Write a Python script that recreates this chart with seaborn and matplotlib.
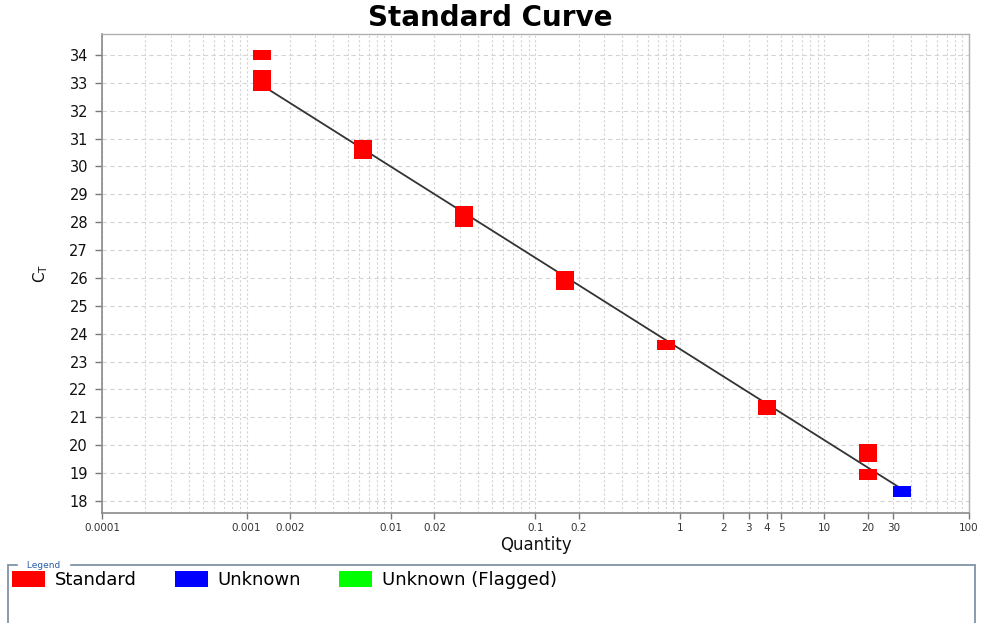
import numpy as np
import pandas as pd
import matplotlib
matplotlib.use("Agg")
import matplotlib.pyplot as plt
import seaborn as sns
from matplotlib.path import Path
from matplotlib.patches import Patch, Rectangle
from matplotlib.ticker import LogLocator, NullFormatter

# valores
std_quantity = [0.00128, 0.00128, 0.00128, 0.0064, 0.0064, 0.032, 0.032,
                0.16, 0.16, 0.8, 4.0, 4.0, 20.0, 20.0, 20.0]
std_ct = [34.0, 33.27, 32.9, 30.77, 30.45, 28.4, 28.03,
          26.05, 25.77, 23.6, 21.42, 21.27, 19.85, 19.6, 18.95]
unk_quantity = [34.5]
unk_ct = [18.34]

# reta do ajuste (Ct = SLOPE*log10(q) + INTERCEPT)
SLOPE = -3.27
INTERCEPT = 23.45

xtick_values = [0.0001, 0.001, 0.002, 0.01, 0.02, 0.1, 0.2, 1, 2, 3, 4, 5, 10, 20, 30, 100]
xtick_labels = ["0.0001", "0.001", "0.002", "0.01", "0.02", "0.1", "0.2",
                "1", "2", "3", "4", "5", "10", "20", "30", "100"]
ytick_values = list(range(18, 35))

legend_labels = ["Standard", "Unknown", "Unknown (Flagged)"]
legend_colors = ["#ff0000", "#0000ff", "#00ff00"]

sns.set_style("white")
plt.rcParams["font.family"] = ["DejaVu Sans"]
plt.rcParams["text.color"] = "black"

df = pd.DataFrame({
    "Quantity": std_quantity + unk_quantity,
    "Ct": std_ct + unk_ct,
    "Task": ["Standard"] * len(std_quantity) + ["Unknown"] * len(unk_quantity),
})

fit_q = np.array([min(std_quantity), unk_quantity[0]])
fit_ct = SLOPE * np.log10(fit_q) + INTERCEPT

# marcador retangular (como no software do equipamento)
rect = Path([(-1, -0.58), (1, -0.58), (1, 0.58), (-1, 0.58), (-1, -0.58)], closed=True)

fig = plt.figure(figsize=(9.81, 6.23), dpi=100)
ax = fig.add_axes([102 / 981, 1 - 513 / 623, (969 - 102) / 981, (513 - 34) / 623])

sns.lineplot(x=fit_q, y=fit_ct, color="#333333", linewidth=1.3, ax=ax, zorder=2)
sns.scatterplot(data=df, x="Quantity", y="Ct", hue="Task",
                palette={"Standard": legend_colors[0], "Unknown": legend_colors[1]},
                marker=rect, s=168, linewidth=0, legend=False, ax=ax, zorder=3)

ax.set_xscale("log")
ax.set_xlim(1e-4, 100)
ax.set_ylim(17.57, 34.75)

ax.set_xticks(xtick_values)
ax.set_xticklabels(xtick_labels)
ax.xaxis.set_minor_locator(LogLocator(base=10, subs=np.arange(2, 10), numticks=20))
ax.xaxis.set_minor_formatter(NullFormatter())
ax.set_yticks(ytick_values)

ax.tick_params(axis="x", which="major", direction="out", length=4, width=1,
               color="#777777", labelsize=7.5, labelcolor="#333333", pad=3, bottom=True)
ax.tick_params(axis="x", which="minor", length=0)
ax.tick_params(axis="y", direction="out", length=5, width=1, color="#777777",
               labelsize=10.5, labelcolor="#111111", pad=5, left=True)

ax.grid(True, axis="x", which="both", color="#d4d4d4", linestyle=(0, (2, 2)), linewidth=0.8)
ax.grid(True, axis="y", which="major", color="#d4d4d4", linestyle=(0, (4, 3)), linewidth=0.8)
ax.set_axisbelow(True)

for side in ["top", "right"]:
    ax.spines[side].set_color("#b0b0b0")
    ax.spines[side].set_linewidth(1)
for side in ["left", "bottom"]:
    ax.spines[side].set_color("#8a8a8a")
    ax.spines[side].set_linewidth(1.2)

ax.set_xlabel("Quantity", fontsize=12, color="#111111", labelpad=2)
ax.set_ylabel(r"C$_\mathregular{T}$", fontsize=11, color="#111111", labelpad=14)

fig.suptitle("Standard Curve", x=0.5, y=1 - 4 / 623, va="top",
             fontsize=20, fontweight="bold", color="black")

# caixa da legenda (borda com título, estilo Swing)
box = Rectangle((8 / 981, -0.05), (975 - 8) / 981, (1 - 565 / 623) + 0.05,
                transform=fig.transFigure, fill=False, edgecolor="#7f93a6",
                linewidth=1.3, clip_on=False)
fig.add_artist(box)
fig.text(24 / 981, 1 - 565 / 623, " Legend ", fontsize=6.5, color="#2a5caa",
         va="center", ha="left", backgroundcolor="white")

handles = [Patch(facecolor=c, edgecolor="none", label=l)
           for c, l in zip(legend_colors, legend_labels)]
fig.legend(handles=handles, loc="upper left", bbox_to_anchor=(12 / 981, 1 - 571 / 623),
           ncol=3, frameon=False, fontsize=13, handlelength=1.83, handleheight=0.95,
           handletextpad=0.55, columnspacing=2.1, borderpad=0, borderaxespad=0)

fig.savefig("out.png", dpi=100)
